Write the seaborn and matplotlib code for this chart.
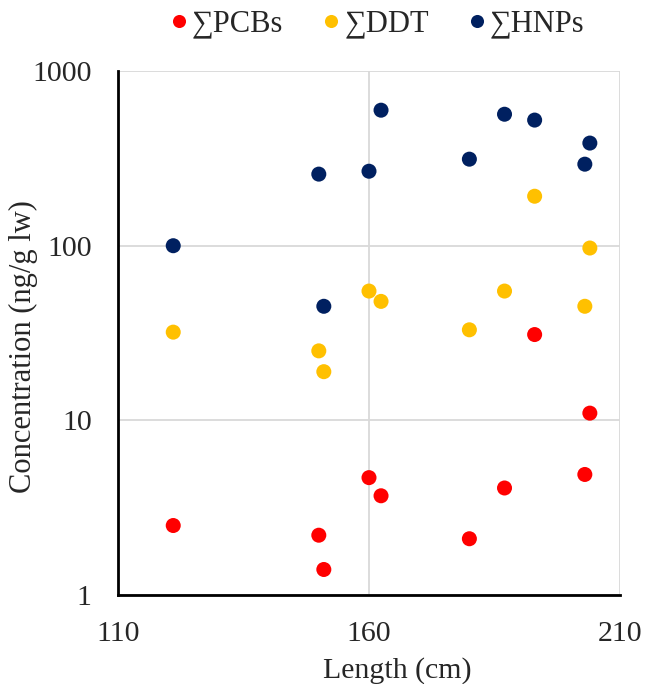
import matplotlib
matplotlib.use("Agg")
import matplotlib.pyplot as plt
import seaborn as sns
import pandas as pd

length = [121, 150, 151, 160, 162.4, 180, 187, 193, 203, 204]
pcbs = [2.5, 2.2, 1.4, 4.7, 3.7, 2.1, 4.1, 31, 4.9, 11]
ddt = [32, 25, 19, 55, 48, 33, 55, 192, 45, 97]
hnps = [100, 257, 45, 267, 597, 313, 566, 524, 293, 387]
series = ["∑PCBs", "∑DDT", "∑HNPs"]
colors = ["#FF0000", "#FFC000", "#002060"]

df = pd.DataFrame({
    "Length": length * 3,
    "Conc": pcbs + ddt + hnps,
    "Series": [series[0]] * 10 + [series[1]] * 10 + [series[2]] * 10,
})

sns.set_style("white")
plt.rcParams["font.family"] = ["Liberation Serif", "DejaVu Serif"]

fig = plt.figure(figsize=(6.46, 6.84), dpi=100)
ax = fig.add_axes([0.1827, 0.1301, 0.777, 0.766])
sns.scatterplot(data=df, x="Length", y="Conc", hue="Series", palette=colors,
                hue_order=series, s=117, linewidth=0, ax=ax, zorder=3)
ax.set_yscale("log")
ax.set_ylim(1, 1000)
ax.set_xlim(110, 210)
ax.set_xticks([110, 160, 210])
ax.set_yticks([1, 10, 100, 1000])
ax.set_yticklabels(["1", "10", "100", "1000"])
ax.minorticks_off()
ax.tick_params(axis="both", labelsize=21.5, length=0)
ax.tick_params(axis="y", pad=19)
ax.tick_params(axis="x", pad=19)
ax.grid(True, color="#D9D9D9", linewidth=1.3, zorder=0)
ax.set_axisbelow(True)
for s in ["top", "right"]:
    ax.spines[s].set_visible(False)
for s in ["left", "bottom"]:
    ax.spines[s].set_color("black")
    ax.spines[s].set_linewidth(2)
ax.set_xlabel("Length (cm)", fontsize=21.5)
ax.set_ylabel("Concentration (ng/g lw)", fontsize=22)
ax.xaxis.set_label_coords(0.556, -0.118)
ax.yaxis.set_label_coords(-0.16, 0.475)
leg = ax.legend(loc="center", bbox_to_anchor=(0.585, 0.965), bbox_transform=fig.transFigure,
                ncol=3, frameon=False, fontsize=22, handlelength=0.5, handletextpad=0.18,
                columnspacing=1.32, markerscale=0.87, borderpad=0, borderaxespad=0)
fig.savefig("out.png", dpi=100)
